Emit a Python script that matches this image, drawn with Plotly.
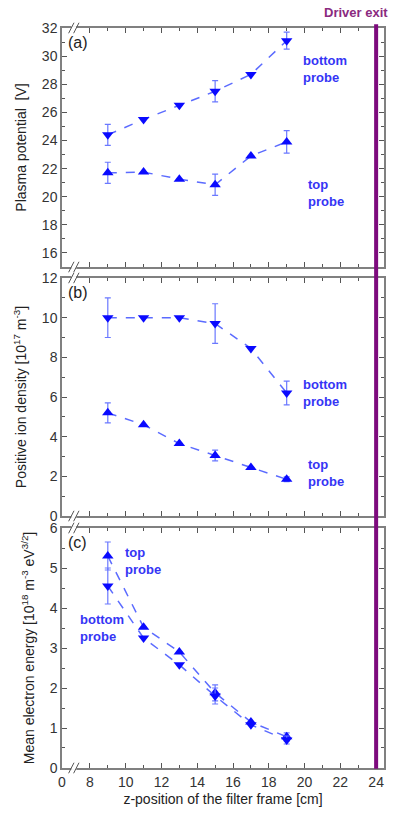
import plotly.graph_objects as go
from plotly.subplots import make_subplots

# Filter-frame positions [cm]
z = [9, 11, 13, 15, 17, 19]

# (a) plasma potential [V]
pot_bottom = [24.4, 25.5, 26.5, 27.5, 28.7, 31.1]
pot_bottom_err = [0.75, None, None, 0.75, None, 0.6]
pot_top = [21.7, 21.75, 21.25, 20.85, 22.9, 23.9]
pot_top_err = [0.75, None, None, 0.75, None, 0.8]

# (b) positive ion density [1e17 m^-3]
dens_bottom = [10.0, 10.0, 10.0, 9.7, 8.45, 6.2]
dens_bottom_err = [1.0, None, None, 1.0, None, 0.6]
dens_top = [5.2, 4.6, 3.65, 3.05, 2.45, 1.85]
dens_top_err = [0.5, None, None, 0.27, None, 0.12]

# (c) mean electron energy [1e18 m^-3 eV^3/2]
en_top = [5.3, 3.52, 2.9, 1.88, 1.15, 0.78]
en_top_err = [0.35, None, None, 0.2, None, 0.1]
en_bottom = [4.55, 3.25, 2.58, 1.8, 1.08, 0.7]
en_bottom_err = [0.45, None, None, 0.2, None, 0.1]

driver_exit = 24

# broken x axis: "0" drawn at the left edge, then 8..24
x_zero_pos = 6.44
x_break = 7.1
x_range = [x_zero_pos, 24.44]
x_tickvals = [x_zero_pos] + list(range(8, 25, 2))
x_ticktext = ["0"] + [str(v) for v in range(8, 25, 2)]

MARK = "#0a0aff"
LINE = "#5b6bff"
ERR = "#6a78ff"
TXT = "#3535f5"
PURPLE = "#7d0a7d"
FRAME = "#808080"
FONT = "Liberation Sans, Arial, sans-serif"

fig = make_subplots(rows=3, cols=1, shared_xaxes=False)

panels = [
    (1, pot_bottom, pot_bottom_err, "triangle-down"),
    (1, pot_top, pot_top_err, "triangle-up"),
    (2, dens_bottom, dens_bottom_err, "triangle-down"),
    (2, dens_top, dens_top_err, "triangle-up"),
    (3, en_top, en_top_err, "triangle-up"),
    (3, en_bottom, en_bottom_err, "triangle-down"),
]
for row, vals, errs, sym in panels:
    fig.add_trace(go.Scatter(
        x=z, y=vals, mode="lines+markers",
        line=dict(color=LINE, width=1.5, dash="dash"),
        marker=dict(symbol=sym, size=10, color=MARK),
        error_y=dict(type="data", array=errs, visible=True,
                     color=ERR, thickness=1.2, width=3),
        showlegend=False, cliponaxis=False,
    ), row=row, col=1)

domains = [[0.677, 1.0], [0.3405, 0.6622], [0.0, 0.3243]]
yranges = [[15, 32], [0, 12], [0, 6]]
ydticks = [2, 2, 1]
yminor = [1, 1, 0.5]
ytitles = [
    "Plasma potential  [V]",
    "Positive ion density [10<sup>17</sup> m<sup>-3</sup>]",
    "Mean electron energy [10<sup>18</sup> m<sup>-3</sup> eV<sup>3/2</sup>]",
]
ytick0 = [16, 0, 0]

for i in range(3):
    xa = "xaxis" if i == 0 else f"xaxis{i + 1}"
    ya = "yaxis" if i == 0 else f"yaxis{i + 1}"
    fig.layout[xa].update(
        range=x_range, showline=True, linecolor=FRAME, linewidth=1.5, mirror="allticks",
        ticks="inside", ticklen=5, tickcolor="#555", tickwidth=1,
        tickvals=x_tickvals, ticktext=x_ticktext, showticklabels=(i == 2),
        minor=dict(tickvals=list(range(9, 24, 2)), ticks="inside", ticklen=3, tickcolor="#555"),
        showgrid=False, zeroline=False,
        tickfont=dict(family=FONT, size=14, color="#333"),
    )
    fig.layout[ya].update(
        domain=domains[i], range=yranges[i], showline=True, linecolor=FRAME, linewidth=1.5,
        mirror="allticks", ticks="inside", ticklen=5, tickcolor="#555", tickwidth=1,
        tick0=ytick0[i], dtick=ydticks[i],
        minor=dict(dtick=yminor[i], ticks="inside", ticklen=3, tickcolor="#555"),
        showgrid=False, zeroline=False,
        tickfont=dict(family=FONT, size=14, color="#333"),
        title=dict(text=ytitles[i], font=dict(family=FONT, size=14, color="#222"), standoff=12),
    )

fig.layout.xaxis3.title = dict(text="z-position of the filter frame [cm]",
                               font=dict(family=FONT, size=14, color="#222"), standoff=6)

shapes = []
# driver exit marker, spanning all panels
shapes.append(dict(type="line", xref="x", yref="paper", x0=driver_exit, x1=driver_exit,
                   y0=-0.001, y1=1.005, line=dict(color=PURPLE, width=4), layer="above"))

# axis break marks "//" on top and bottom edges of every panel
for i in range(3):
    xr = "x" if i == 0 else f"x{i + 1}"
    yr = ("y" if i == 0 else f"y{i + 1}") + " domain"
    for yb in (0.0, 1.0):
        shapes.append(dict(type="rect", xref=xr, yref=yr, x0=x_break - 0.14, x1=x_break + 0.14,
                           y0=yb - 0.008, y1=yb + 0.008, fillcolor="white",
                           line=dict(width=0), layer="above"))
        for dx in (-0.14, 0.14):
            shapes.append(dict(type="line", xref=xr, yref=yr,
                               x0=x_break + dx - 0.15, x1=x_break + dx + 0.15,
                               y0=yb - 0.022, y1=yb + 0.022,
                               line=dict(color="#555", width=1), layer="above"))
fig.update_layout(shapes=shapes)

ann = []
lab_font = dict(family=FONT, size=13, color=TXT, weight="bold")
def label(txt, xr, yr, x, y):
    ann.append(dict(text=txt, xref=xr, yref=yr, x=x, y=y, showarrow=False,
                    xanchor="left", yanchor="middle", align="left", font=lab_font))

label("bottom<br>probe", "x", "y", 19.78, 29.1)
label("top<br>probe", "x", "y", 20.06, 20.3)
label("bottom<br>probe", "x2", "y2", 19.78, 6.2)
label("top<br>probe", "x2", "y2", 20.06, 2.15)
label("top<br>probe", "x3", "y3", 9.83, 5.18)
label("bottom<br>probe", "x3", "y3", 7.33, 3.5)

for i, name in enumerate(["(a)", "(b)", "(c)"]):
    xr = ("x" if i == 0 else f"x{i + 1}") + " domain"
    yr = ("y" if i == 0 else f"y{i + 1}") + " domain"
    ann.append(dict(text=name, xref=xr, yref=yr, x=0.012, y=0.985, showarrow=False,
                    xanchor="left", yanchor="top",
                    font=dict(family=FONT, size=16, color="#222")))

ann.append(dict(text="Driver exit", xref="x", yref="paper", x=driver_exit, y=1.0,
                showarrow=False, xanchor="right", yanchor="bottom", yshift=6, xshift=14,
                font=dict(family=FONT, size=13, color="#8a2a80", weight="bold")))

fig.update_layout(
    annotations=ann,
    width=393, height=819,
    margin=dict(l=62, r=7, t=28, b=51),
    plot_bgcolor="white", paper_bgcolor="white",
    font=dict(family=FONT),
)

fig.write_html("out.html")
